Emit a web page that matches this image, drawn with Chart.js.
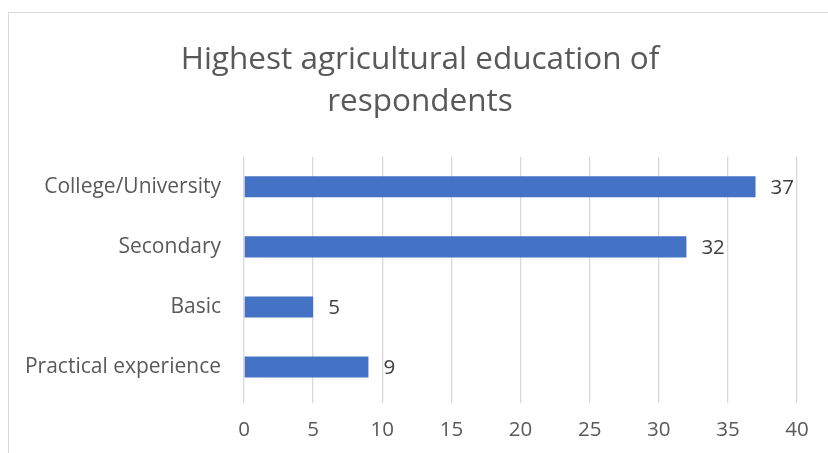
<!DOCTYPE html>
<html>
<head>
<meta charset="utf-8">
<script src="https://cdn.jsdelivr.net/npm/chart.js@4"></script>
<style>
  html, body { margin: 0; padding: 0; background: #fff; overflow: hidden; }
  #wrap { position: relative; width: 828px; height: 453px; }
  #frame { position: absolute; left: 8px; top: 12px; width: 900px; height: 600px;
           border: 1px solid #d9d9d9; box-sizing: border-box; }
  canvas { position: absolute; left: 0; top: 0; }
</style>
</head>
<body>
<div id="wrap">
  <div id="frame"></div>
  <canvas id="eduChart" width="828" height="453"></canvas>
</div>
<script>
// data
const categories = ['College/University', 'Secondary', 'Basic', 'Practical experience'];
const respondents = [37, 32, 5, 9];
const xMin = 0, xMax = 40, xStep = 5;

const FONT = "'Open Sans', sans-serif";

// value labels at the end of each bar
const barLabels = {
  id: 'barLabels',
  afterDatasetsDraw(chart) {
    const ctx = chart.ctx;
    const meta = chart.getDatasetMeta(0);
    ctx.save();
    ctx.font = '20.5px ' + FONT;
    ctx.fillStyle = '#404040';
    ctx.textAlign = 'left';
    ctx.textBaseline = 'middle';
    meta.data.forEach((bar, i) => {
      ctx.fillText(String(respondents[i]), bar.x + 15, bar.y + 1);
    });
    ctx.restore();
  }
};

const ctx = document.getElementById('eduChart').getContext('2d');
new Chart(ctx, {
  type: 'bar',
  data: {
    labels: categories,
    datasets: [{
      data: respondents,
      backgroundColor: '#4472c4',
      borderWidth: 0,
      categoryPercentage: 1,
      barPercentage: 0.35
    }]
  },
  options: {
    indexAxis: 'y',
    responsive: false,
    animation: false,
    layout: { padding: { left: 12, right: 0, top: 0, bottom: 0 } },
    plugins: {
      legend: { display: false },
      tooltip: { enabled: false },
      title: {
        display: true,
        text: ['Highest agricultural education of', 'respondents'],
        color: '#595959',
        font: { family: FONT, size: 31.5, weight: 'normal', lineHeight: 1.33 },
        padding: { top: 39, bottom: 34 }
      }
    },
    scales: {
      x: {
        min: xMin,
        max: xMax,
        ticks: { stepSize: xStep, color: '#595959', font: { family: FONT, size: 20.5 }, padding: 15 },
        grid: { color: '#d9d9d9', lineWidth: 1.3, tickLength: 6, drawTicks: true },
        border: { display: false },
        afterFit(scale) { scale.height = 56; scale.paddingRight = 31; }
      },
      y: {
        ticks: { color: '#595959', font: { family: FONT, size: 21 }, padding: 23 },
        grid: { display: false, drawTicks: false },
        border: { display: false },
        afterFit(scale) { scale.width = 232; }
      }
    }
  },
  plugins: [barLabels]
});
</script>
</body>
</html>
